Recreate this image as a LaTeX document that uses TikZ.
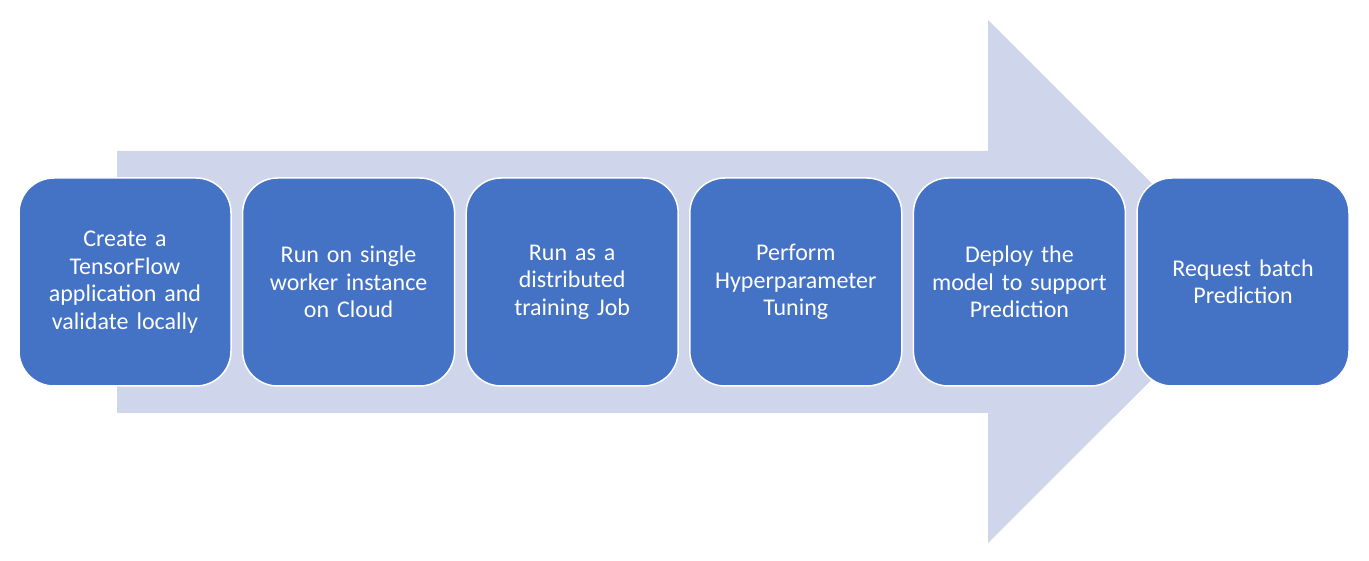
\documentclass[tikz,border=0pt]{standalone}
\usepackage{fontspec}
\setmainfont[WordSpace=0.8]{Carlito}
\usetikzlibrary{positioning}

\definecolor{boxblue}{HTML}{4472C4}
\definecolor{arrowfill}{HTML}{CFD5EA}

\tikzset{
  stepbox/.style={fill=boxblue,draw=white,line width=1.5pt,rounded corners=35pt,
    minimum width=212pt,minimum height=208pt,text width=200pt,align=center,
    text=white,font=\fontsize{24}{27.5}\selectfont,inner sep=0pt,outer sep=0pt}
}

\begin{document}
\begin{tikzpicture}[x=1pt,y=-1pt]
  \useasboundingbox (0,0) rectangle (1369,561);
  % big background arrow
  \fill[arrowfill] (117,151) -- (988,151) -- (988,20) -- (1250,281.5)
    -- (988,543) -- (988,413) -- (117,413) -- cycle;
  % steps
  \node[stepbox] (create) at (125,282) {Create a\\TensorFlow\\application and\\validate locally};
  \node[stepbox,right=11.6pt of create] (single) {Run on single\\worker instance\\on Cloud};
  \node[stepbox,right=11.6pt of single] (distrib) {Run as a\\distributed\\training Job};
  \node[stepbox,right=11.6pt of distrib] (tuning) {Perform\\Hyperparameter\\Tuning};
  \node[stepbox,right=11.6pt of tuning] (deploy) {Deploy the\\model to support\\Prediction};
  \node[stepbox,right=11.6pt of deploy] (batch) {Request batch\\Prediction};
\end{tikzpicture}
\end{document}
